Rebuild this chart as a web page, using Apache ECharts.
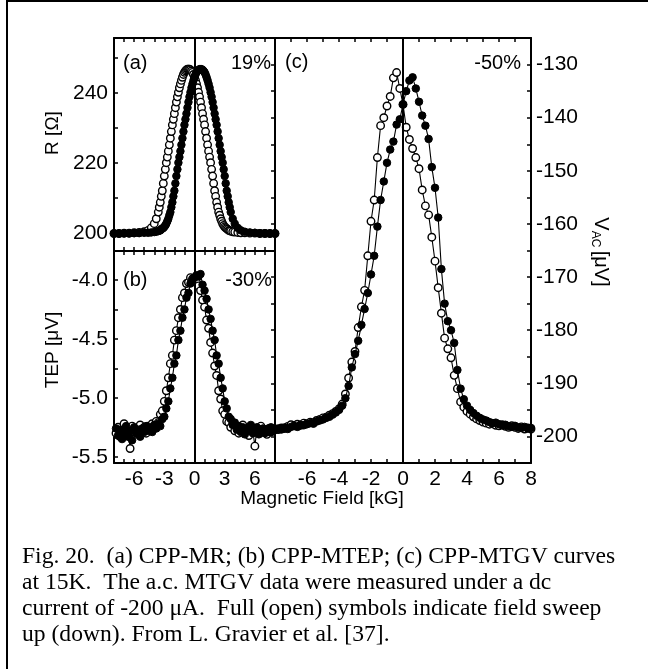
<!DOCTYPE html>
<html>
<head>
<meta charset="utf-8">
<script src="https://cdn.jsdelivr.net/npm/echarts@6/dist/echarts.min.js"></script>
<style>
html,body{margin:0;padding:0;background:#fff;}
#chart{width:648px;height:669px;}
</style>
</head>
<body>
<div id="chart"></div>
<script>
// ---------- Data ----------
// Panel (a): R [Ohm] vs field [kG]
const fieldA = [-8,-7.5,-7,-6.5,-6,-5.5,-5,-4.6,-4.3,-4,-3.8,
 -3.6,-3.5,-3.4,-3.3,-3.2,-3.1,-3,-2.9,-2.8,-2.7,-2.6,-2.5,-2.4,-2.3,-2.2,-2.1,-2,-1.9,-1.8,-1.7,-1.6,-1.5,-1.4,-1.3,-1.2,-1.1,-1,-0.9,-0.8,-0.7,-0.6,-0.5,-0.4,-0.3,-0.2,-0.1,
 0,0.1,0.2,0.3,0.4,0.5,0.6,0.7,0.8,0.9,1,1.1,1.2,1.3,1.4,1.5,1.6,1.7,1.8,1.9,2,2.1,2.2,2.3,2.4,2.5,2.6,2.7,2.8,2.9,3,3.1,3.2,3.3,3.4,3.5,3.6,
 3.8,4,4.3,4.6,5,5.5,6,6.5,7,7.5,8];
const rDown = [199.9,199.9,200.0,200.0,200.1,200.2,200.4,200.8,201.5,202.7,204.1,
 206.0,207.4,208.8,210.5,212.1,214.2,216.3,218.2,220.1,221.7,223.4,225.2,227.1,229.0,230.9,232.5,234.1,235.8,237.4,238.9,240.2,241.5,242.6,243.6,244.5,245.3,245.9,246.3,246.6,246.8,246.8,246.8,246.6,246.3,245.9,245.3,
 244.5,243.6,242.6,241.5,240.2,238.9,237.4,235.8,234.1,232.5,230.9,229.0,227.1,225.2,223.4,221.7,220.1,218.2,216.3,214.2,212.1,210.5,208.8,207.4,206.0,205.1,204.1,203.4,202.7,202.2,201.8,201.5,201.3,201.1,200.8,200.7,200.6,
 200.4,200.3,200.2,200.1,200.1,200.0,200.0,199.9,199.9,199.9,199.9];
const rUp = [199.9,199.9,199.9,199.9,200.0,200.0,200.1,200.1,200.2,200.3,200.4,
 200.6,200.7,200.8,201.1,201.3,201.5,201.8,202.2,202.7,203.4,204.1,205.1,206.0,207.4,208.8,210.5,212.1,214.2,216.3,218.2,220.1,221.7,223.4,225.2,227.1,229.0,
 230.9,232.5,234.1,235.8,237.4,238.9,240.2,241.5,242.6,243.6,244.5,245.3,245.9,246.3,246.6,246.8,246.8,246.8,246.6,246.3,245.9,245.3,244.5,243.6,242.6,241.5,240.2,238.9,237.4,235.8,234.1,232.5,230.9,229.0,227.1,225.2,223.4,221.7,220.1,218.2,216.3,214.2,212.1,210.5,208.8,207.4,206.0,
 204.1,202.7,201.5,200.8,200.4,200.2,200.1,200.0,200.0,199.9,199.9];

// Panel (b): TEP [uV] vs field [kG]
const fieldB = [-7.8,-7.6,-7.4,-7.2,-7,-6.8,-6.6,-6.4,-6.2,-6,-5.8,-5.6,-5.4,-5.2,-5,-4.8,-4.6,-4.4,-4.2,-4,
 -3.8,-3.6,-3.4,-3.2,-3,-2.8,-2.6,-2.4,-2.2,-2,-1.8,-1.6,-1.4,-1.2,-1,-0.8,-0.6,-0.4,-0.2,0,
 0.2,0.4,0.6,0.8,1,1.2,1.4,1.6,1.8,2,2.2,2.4,2.6,2.8,3,3.2,3.4,3.6,3.8,4,
 4.2,4.4,4.6,4.8,5,5.2,5.4,5.6,5.8,6,6.2,6.4,6.6,6.8,7,7.2,7.4,7.6,7.8];
const tepDown = [-5.30,-5.25,-5.33,-5.28,-5.22,-5.31,-5.27,-5.43,-5.24,-5.29,
 -5.26,-5.31,-5.23,-5.28,-5.25,-5.30,-5.24,-5.27,-5.22,-5.25,
 -5.20,-5.21,-5.14,-5.11,-5.03,-4.94,-4.83,-4.71,-4.64,-4.51,
 -4.43,-4.32,-4.25,-4.15,-4.11,-4.03,-4.02,-3.98,-3.99,-3.98,
 -4.02,-4.05,-4.09,-4.17,-4.23,-4.34,-4.41,-4.53,-4.62,-4.73,
 -4.81,-4.94,-5.01,-5.11,-5.14,-5.20,-5.21,-5.25,-5.22,-5.28,
 -5.24,-5.30,-5.26,-5.23,-5.29,-5.27,-5.32,-5.25,-5.28,-5.41,
 -5.26,-5.30,-5.24,-5.29,-5.27,-5.31,-5.26,-5.29,-5.28];
const tepUp = [-5.26,-5.32,-5.27,-5.35,-5.29,-5.24,-5.33,-5.28,-5.36,-5.25,
 -5.30,-5.27,-5.33,-5.26,-5.29,-5.24,-5.28,-5.25,-5.29,-5.23,
 -5.26,-5.22,-5.24,-5.18,-5.16,-5.09,-5.03,-4.92,-4.83,-4.71,
 -4.64,-4.51,-4.43,-4.32,-4.25,-4.15,-4.11,-4.03,-4.00,-3.98,
 -3.96,-3.97,-3.95,-4.04,-4.09,-4.16,-4.25,-4.33,-4.43,-4.51,
 -4.64,-4.71,-4.83,-4.92,-5.03,-5.09,-5.16,-5.18,-5.23,-5.21,
 -5.27,-5.24,-5.29,-5.25,-5.31,-5.26,-5.28,-5.23,-5.30,-5.27,
 -5.25,-5.31,-5.28,-5.26,-5.30,-5.27,-5.29,-5.25,-5.28];

// Panel (c): V_AC [uV] vs field [kG]
const fieldC = [-8,-7.8,-7.6,-7.4,-7.2,-7,-6.8,-6.6,-6.4,-6.2,-6,-5.8,-5.6,-5.4,-5.2,-5,-4.8,-4.6,-4.4,-4.2,
 -4,-3.8,-3.6,-3.4,-3.2,-3,-2.8,-2.6,-2.4,-2.2,-2,-1.8,-1.6,-1.4,-1.2,-1,-0.8,-0.6,-0.4,-0.2,
 0,0.2,0.4,0.6,0.8,1,1.2,1.4,1.6,1.8,2,2.2,2.4,2.6,2.8,3,3.2,3.4,3.6,3.8,
 4,4.2,4.4,4.6,4.8,5,5.2,5.4,5.6,5.8,6,6.2,6.4,6.6,6.8,7,7.2,7.4,7.6,7.8,8];
const vDown = [-198.6,-198.7,-198.4,-198.5,-198.1,-197.8,-198.0,-197.7,-197.9,-197.5,
 -197.6,-197.3,-197.4,-197.0,-196.8,-196.5,-196.4,-196.0,-195.7,-195.3,
 -194.8,-193.9,-192.0,-189.0,-186.0,-184.0,-179.5,-175.6,-172.5,-166.0,
 -159.5,-155.5,-147.5,-141.5,-140.0,-137.8,-136.0,-132.5,-131.5,-134.5,
 -137.5,-141.8,-144.1,-145.8,-147.5,-149.6,-153.6,-156.6,-158.3,-162.5,
 -167.0,-172.0,-176.8,-181.5,-183.5,-185.2,-188.5,-191.0,-193.5,-194.5,
 -195.3,-195.8,-196.3,-196.7,-197.0,-197.3,-197.5,-197.7,-197.6,-197.9,
 -198.0,-197.8,-198.1,-198.3,-198.0,-198.3,-198.5,-198.2,-198.6,-198.4,-198.6];
const vUp = [-198.8,-198.5,-198.7,-198.3,-198.6,-198.2,-198.0,-198.2,-197.8,-197.9,
 -197.7,-197.5,-197.6,-197.2,-197.0,-196.8,-196.5,-196.3,-195.9,-195.5,
 -195.0,-194.2,-192.8,-190.5,-187.0,-184.5,-182.0,-179.0,-176.0,-173.0,
 -169.5,-166.0,-160.5,-155.5,-152.0,-148.5,-146.0,-144.5,-141.3,-140.3,
 -137.5,-135.0,-133.0,-132.4,-134.5,-137.0,-139.6,-141.5,-144.0,-149.3,
 -153.2,-158.8,-168.5,-175.0,-178.3,-180.0,-182.4,-187.5,-191.0,-193.0,
 -194.2,-195.0,-195.6,-196.1,-196.5,-196.8,-197.0,-197.3,-197.5,-197.4,
 -197.7,-197.9,-197.8,-198.1,-198.2,-198.0,-198.3,-198.4,-198.2,-198.5,-198.4];

// Tick labels
const xTicksAB = [-6,-3,0,3,6];
const xTicksC = [-6,-4,-2,0,2,4,6,8];
const yTicksA = [200,220,240];
const yMinorA = [200,210,220,230,240,250];
const yTicksB = [-5.5,-5.0,-4.5,-4.0];
const yMinorB = [-5.5,-5.25,-5.0,-4.75,-4.5,-4.25,-4.0];
const yTicksC = [-200,-190,-180,-170,-160,-150,-140,-130];

const captionLines = [
  'Fig. 20.  (a) CPP-MR; (b) CPP-MTEP; (c) CPP-MTGV curves',
  'at 15K.  The a.c. MTGV data were measured under a dc',
  'current of -200 \u03BCA.  Full (open) symbols indicate field sweep',
  'up (down). From L. Gravier et al. [37].'
];

// ---------- Chart ----------
const SANS = '"Liberation Sans", Arial, Helvetica, sans-serif';
const SERIF = '"Liberation Serif", "Times New Roman", serif';
const zip = (xs, ys) => xs.map((x, i) => [x, ys[i]]);

const axLine = {show:true, onZero:false, lineStyle:{color:'#000', width:2}};
const tickIn = {show:true, inside:true, length:4, lineStyle:{color:'#000', width:1.5}};
const labelStyle = {color:'#000', fontFamily:SANS, fontSize:21};

function xAx(grid, pos, labels) {
  const a = {type:'value', gridIndex:grid, position:pos, min:-8, max:8, interval:1,
    axisLine:axLine, axisTick:tickIn, splitLine:{show:false}};
  if (labels) {
    a.axisLabel = Object.assign({show:true, margin:6, customValues:labels}, labelStyle);
  } else {
    a.axisLabel = {show:false};
  }
  return a;
}

const openItem = {color:'#fff', borderColor:'#000', borderWidth:1.4};
const fullItem = {color:'#000', borderColor:'#000', borderWidth:1};
function ser(xi, yi, data, item, z, mark) {
  const s = {type:'line', xAxisIndex:xi, yAxisIndex:yi, data:data, symbol:'circle', symbolSize:7.5,
    showAllSymbol:true, itemStyle:item, lineStyle:{color:'#000', width:1.1}, z:z,
    emphasis:{disabled:true}, animation:false, clip:true};
  if (mark) {
    s.markLine = {silent:true, symbol:'none', label:{show:false},
      lineStyle:{color:'#000', width:2, type:'solid'}, data:[{xAxis:0}], animation:false};
  }
  return s;
}

const T = (x, y, text, size, extra) => Object.assign({type:'text', x:x, y:y,
  style:Object.assign({text:text, font:size + 'px ' + SANS, fill:'#000', textVerticalAlign:'middle'}, extra || {})});
const CAP = (y, text) => ({type:'text', x:22, y:y, style:{text:text, font:'23.6px ' + SERIF, fill:'#000', textVerticalAlign:'middle'}});

const option = {
  animation:false,
  backgroundColor:'#fff',
  grid:[
    {left:114, top:38, width:161, height:213},
    {left:114, top:251, width:161, height:212},
    {left:275, top:38, width:256, height:425}
  ],
  xAxis:[
    xAx(0,'bottom',null), xAx(0,'top',null),
    xAx(1,'bottom',xTicksAB), xAx(1,'top',null),
    xAx(2,'bottom',xTicksC), xAx(2,'top',null)
  ],
  yAxis:[
    {type:'value', gridIndex:0, position:'left', min:194.9, max:255.7,
     axisLine:axLine, splitLine:{show:false},
     axisTick:Object.assign({customValues:yMinorA}, tickIn),
     axisLabel:Object.assign({margin:6, customValues:yTicksA}, labelStyle)},
    {type:'value', gridIndex:1, position:'left', min:-5.553, max:-3.754,
     axisLine:axLine, splitLine:{show:false},
     axisTick:Object.assign({customValues:yMinorB}, tickIn),
     axisLabel:Object.assign({margin:6, customValues:yTicksB, formatter:v => v.toFixed(1)}, labelStyle)},
    {type:'value', gridIndex:2, position:'right', min:-205, max:-125, interval:5,
     axisLine:axLine, splitLine:{show:false}, axisTick:tickIn,
     axisLabel:Object.assign({margin:5, customValues:yTicksC}, labelStyle)},
    {type:'value', gridIndex:2, position:'left', min:-205, max:-125, interval:5,
     axisLine:axLine, splitLine:{show:false},
     axisTick:{show:true, inside:false, length:4, lineStyle:{color:'#000', width:1.5}},
     axisLabel:{show:false}}
  ],
  series:[
    ser(0,0,zip(fieldA,rDown),openItem,3,true),
    ser(0,0,zip(fieldA,rUp),fullItem,4,false),
    ser(2,1,zip(fieldB,tepDown),openItem,3,true),
    ser(2,1,zip(fieldB,tepUp),fullItem,4,false),
    ser(4,2,zip(fieldC,vDown),openItem,3,true),
    ser(4,2,zip(fieldC,vUp),fullItem,4,false)
  ],
  graphic:[
    {type:'rect', shape:{x:7, y:1, width:700, height:700}, style:{fill:'none', stroke:'#000', lineWidth:2}, silent:true},
    T(123, 63, '(a)', 20),
    T(271, 63, '19%', 20, {textAlign:'right'}),
    T(123, 280, '(b)', 20),
    T(272, 280, '-30%', 20, {textAlign:'right'}),
    T(285, 62, '(c)', 20),
    T(521, 63, '-50%', 20, {textAlign:'right'}),
    {type:'text', x:53, y:133, rotation:Math.PI/2, style:{text:'R [\u03A9]', font:'19px '+SANS, fill:'#000', textAlign:'center', textVerticalAlign:'middle'}},
    {type:'text', x:53, y:350, rotation:Math.PI/2, style:{text:'TEP [\u03BCV]', font:'19px '+SANS, fill:'#000', textAlign:'center', textVerticalAlign:'middle'}},
    {type:'text', x:601, y:252, rotation:-Math.PI/2, style:{
      text:'{v|V}{s|AC} {v|[\u03BCV]}', fill:'#000', textAlign:'center', textVerticalAlign:'middle',
      rich:{v:{fontSize:20, fontFamily:SANS, fill:'#000', lineHeight:22},
            s:{fontSize:12, fontFamily:SANS, fill:'#000', padding:[12,0,0,0], lineHeight:22}}}},
    {type:'text', x:322, y:499, style:{text:'Magnetic Field [kG]', font:'19px '+SANS, fill:'#000', textAlign:'center', textVerticalAlign:'middle'}},
    CAP(557, captionLines[0]),
    CAP(583, captionLines[1]),
    CAP(609, captionLines[2]),
    CAP(635, captionLines[3])
  ]
};

const chart = echarts.init(document.getElementById('chart'), null, {renderer:'canvas'});
chart.setOption(option);
</script>
</body>
</html>
